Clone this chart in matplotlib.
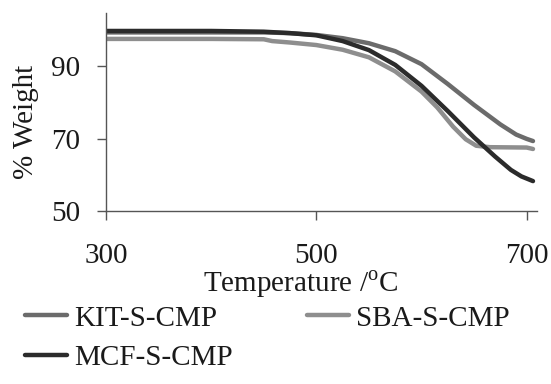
import numpy as np
import matplotlib
matplotlib.use("Agg")
import matplotlib.pyplot as plt

# temperatures (deg C) and % weight
KIT_T = [300, 400, 450, 475, 500, 525, 550, 575, 600, 625, 650, 675, 690, 700, 706]
KIT_W = [99.4, 99.4, 99.4, 99.2, 98.7, 97.8, 96.4, 94.2, 90.6, 85.1, 79.3, 73.9, 71.1, 69.9, 69.3]

SBA_T = [300, 400, 450, 458, 475, 500, 525, 550, 575, 600, 615, 630, 642, 652, 665, 700, 706]
SBA_W = [97.6, 97.6, 97.5, 97.0, 96.6, 95.9, 94.6, 92.5, 88.6, 83.0, 78.6, 73.3, 69.8, 68.0, 67.6, 67.5, 67.1]

MCF_T = [300, 400, 450, 475, 500, 525, 550, 575, 600, 625, 650, 670, 685, 695, 706]
MCF_W = [99.8, 99.8, 99.6, 99.2, 98.6, 97.0, 94.5, 90.4, 84.6, 77.6, 70.3, 65.0, 61.3, 59.5, 58.2]

X_TICKS = [300, 500, 700]
Y_TICKS = [50, 70, 90]

plt.rcParams['font.family'] = ['Liberation Serif', 'DejaVu Serif']
plt.rcParams['mathtext.fontset'] = 'custom'
plt.rcParams['mathtext.rm'] = 'Liberation Serif'
FS = 21

fig = plt.figure(figsize=(5.51, 3.84), dpi=100)
ax = fig.add_axes([0.1924, 0.4513, 0.974 - 0.1924, 0.9654 - 0.4513])

ax.plot(KIT_T, KIT_W, color='#6b6b6b', lw=3.2, label='KIT-S-CMP', solid_capstyle='round')
ax.plot(SBA_T, SBA_W, color='#8e8e8e', lw=3.2, label='SBA-S-CMP', solid_capstyle='round')
ax.plot(MCF_T, MCF_W, color='#2b2b2b', lw=3.2, label='MCF-S-CMP', solid_capstyle='round')

ax.set_xlim(300, 709.5)
ax.set_ylim(50, 104.7)
ax.set_xticks(X_TICKS)
ax.set_yticks(Y_TICKS)

for s in ['top', 'right']:
    ax.spines[s].set_visible(False)
for s in ['left', 'bottom']:
    ax.spines[s].set_color('#555555')
    ax.spines[s].set_linewidth(1)

ax.tick_params(axis='x', direction='out', length=6.5, width=1, color='#555555',
               pad=16.5, labelsize=FS, labelcolor='#1a1a1a')
ax.tick_params(axis='y', direction='out', length=6.5, width=1, color='#555555',
               pad=12, labelsize=FS, labelcolor='#1a1a1a')

ax.set_xlabel('Temperature /$^{\\mathrm{o}}$C', fontsize=FS, color='#1a1a1a')
ax.xaxis.set_label_coords(0.453, -0.295)
ax.set_ylabel('% Weight', fontsize=FS, color='#1a1a1a')
ax.yaxis.set_label_coords(-0.155, 0.452)

h, l = ax.get_legend_handles_labels()
order = [0, 2, 1]
fig.legend([h[i] for i in order], [l[i] for i in order], ncol=2,
           loc='upper left', bbox_to_anchor=(0.045, 0.205), frameon=False,
           fontsize=FS, handlelength=1.46, handletextpad=0.24,
           columnspacing=2.53, labelspacing=0.45, borderaxespad=0,
           borderpad=0, labelcolor='#1a1a1a')

fig.savefig('out.png', dpi=100)
